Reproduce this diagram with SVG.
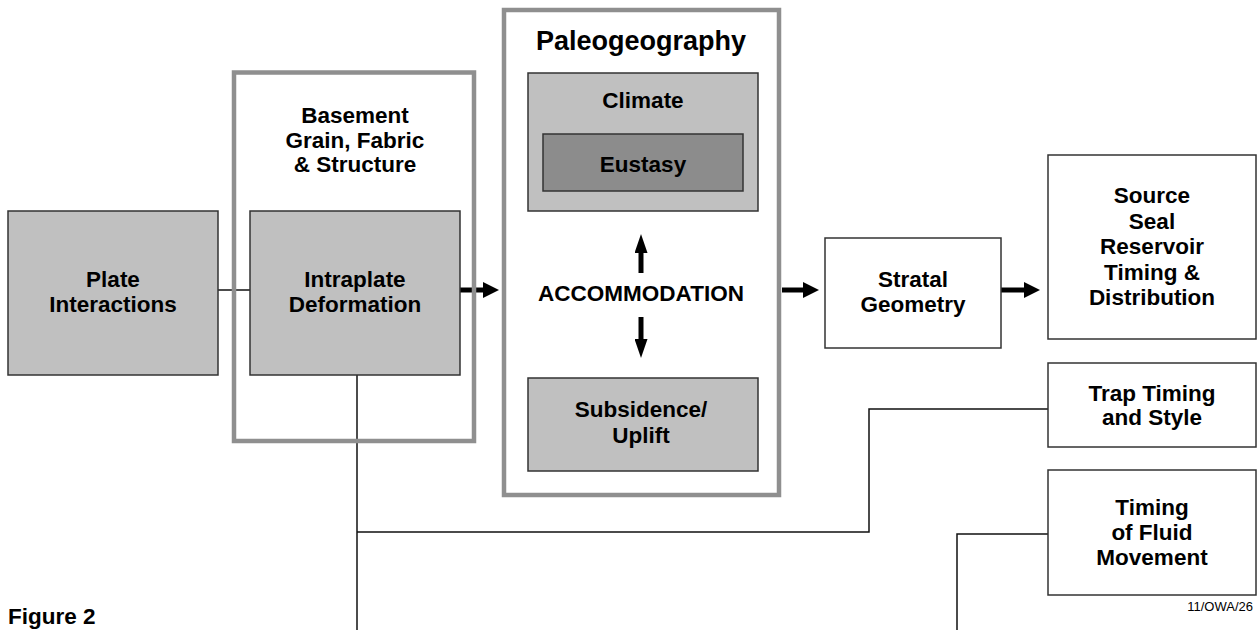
<svg xmlns="http://www.w3.org/2000/svg" width="1257" height="630" viewBox="0 0 1257 630">
<style>
text{font-family:"Liberation Sans",Arial,sans-serif;font-weight:bold;font-size:22.5px;fill:#000;text-anchor:middle}
.box{stroke:#333;stroke-width:1.5}
.grey{fill:#c0c0c0}
.white{fill:#fff}
.dark{fill:#8c8c8c}
.frame{fill:none;stroke:#8f8f8f;stroke-width:4.5}
.thin{fill:none;stroke:#111;stroke-width:1.5}
.thick{fill:none;stroke:#000;stroke-width:5}
.small{font-weight:normal;font-size:13px;text-anchor:end}
</style>
<defs>
<marker id="ah" markerUnits="userSpaceOnUse" markerWidth="16" markerHeight="16" refX="0" refY="8" orient="auto" viewBox="0 0 16 16">
<path d="M0,0 L16,8 L0,16 z" fill="#000"/>
</marker>
<marker id="av" markerUnits="userSpaceOnUse" markerWidth="19" markerHeight="13" refX="0" refY="6.5" orient="auto" viewBox="0 0 19 13">
<path d="M0,0 L19,6.5 L0,13 z" fill="#000"/>
</marker>
</defs>
<rect width="1257" height="630" fill="#fff"/>
<g id="connectors">
<path class="thin" d="M218,290 H250"/>
<path class="thin" d="M357,375 V630"/>
<path class="thin" d="M357,532 H869 V409 H1048"/>
<path class="thin" d="M957,630 V534 H1048"/>
<path class="thick" d="M460,290 H483" marker-end="url(#ah)"/>
<path class="thick" d="M782,290 H803" marker-end="url(#ah)"/>
<path class="thick" d="M1001,290 H1024" marker-end="url(#ah)"/>
<path class="thick" d="M641,273 V253" marker-end="url(#av)"/>
<path class="thick" d="M641,317 V339" marker-end="url(#av)"/>
</g>
<g id="plate">
<rect class="box grey" x="8" y="211" width="210" height="164"/>
<text x="113" y="287">Plate</text>
<text x="113" y="312">Interactions</text>
</g>
<g id="intraplate">
<rect class="box grey" x="250" y="211" width="210" height="164"/>
<text x="355" y="287">Intraplate</text>
<text x="355" y="312">Deformation</text>
</g>
<g id="basement">
<rect class="frame" x="234" y="72.5" width="240" height="368.5"/>
<text x="355" y="123">Basement</text>
<text x="355" y="147.5">Grain, Fabric</text>
<text x="355" y="172">&amp; Structure</text>
</g>
<g id="paleogeography">
<rect class="frame" x="504" y="10" width="275" height="485"/>
<text x="641" y="50" style="font-size:27px">Paleogeography</text>
<text x="641" y="301">ACCOMMODATION</text>
</g>
<g id="climate">
<rect class="box grey" x="528" y="73" width="230" height="138"/>
<text x="643" y="108">Climate</text>
</g>
<g id="eustasy">
<rect class="box dark" x="543" y="134" width="200" height="57"/>
<text x="643" y="172">Eustasy</text>
</g>
<g id="subsidence">
<rect class="box grey" x="528" y="378" width="230" height="93"/>
<text x="641" y="417">Subsidence/</text>
<text x="641" y="443">Uplift</text>
</g>
<g id="stratal">
<rect class="box white" x="825" y="238" width="176" height="110"/>
<text x="913" y="287">Stratal</text>
<text x="913" y="312">Geometry</text>
</g>
<g id="source">
<rect class="box white" x="1048" y="155" width="208" height="184"/>
<text x="1152" y="203">Source</text>
<text x="1152" y="228.5">Seal</text>
<text x="1152" y="254">Reservoir</text>
<text x="1152" y="279.5">Timing &amp;</text>
<text x="1152" y="305">Distribution</text>
</g>
<g id="trap">
<rect class="box white" x="1048" y="363" width="208" height="84"/>
<text x="1152" y="400.5">Trap Timing</text>
<text x="1152" y="425">and Style</text>
</g>
<g id="fluid">
<rect class="box white" x="1048" y="470" width="208" height="125"/>
<text x="1152" y="515">Timing</text>
<text x="1152" y="540">of Fluid</text>
<text x="1152" y="565">Movement</text>
</g>
<text class="small" x="1253" y="611">11/OWA/26</text>
<text x="8" y="624" style="text-anchor:start">Figure 2</text>
</svg>
